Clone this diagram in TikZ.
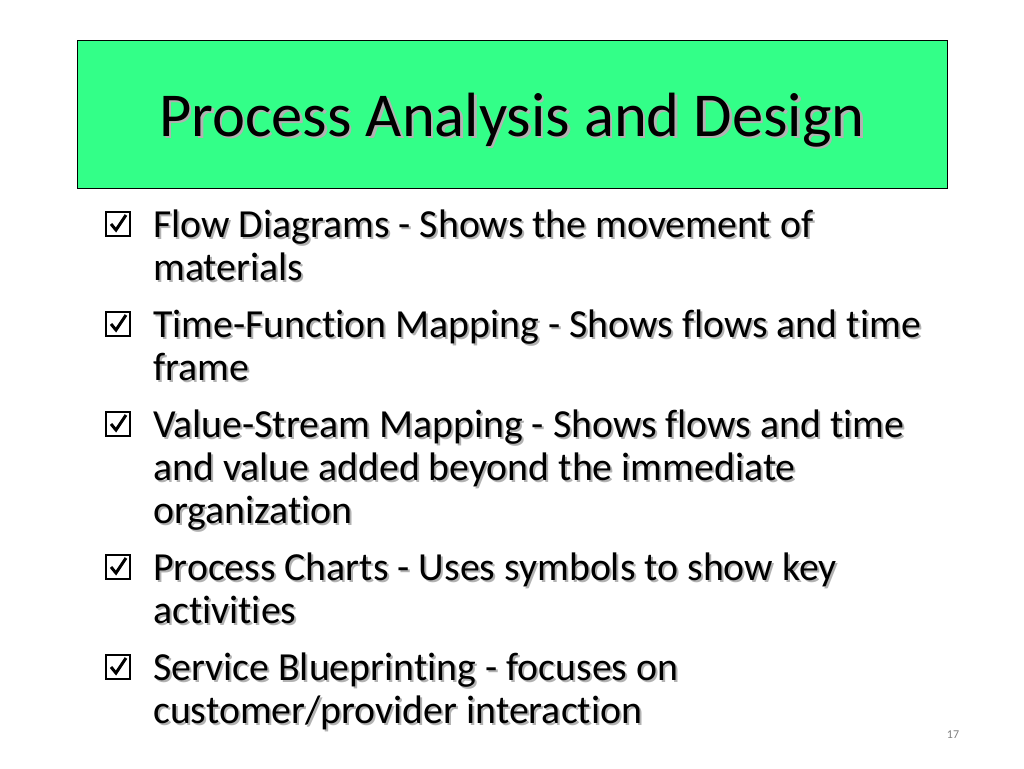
\documentclass[tikz,border=0pt]{standalone}
\usepackage{fontspec}
\setmainfont[Ligatures=NoCommon]{Carlito}
\definecolor{slgreen}{HTML}{33FF88}
\begin{document}
\begin{tikzpicture}[x=1pt,y=-1pt,
  txt/.style={anchor=base west,inner sep=0pt,font=\fontsize{39.8}{46}\selectfont},
  shd/.style={txt,text=black!30},
  cbox/.style={draw=black,line width=2pt,minimum size=24pt,inner sep=0pt}]
\useasboundingbox (0,0) rectangle (1024,768);
\fill[white] (0,0) rectangle (1024,768);
\node[draw=black,fill=slgreen,minimum width=870pt,minimum height=148pt,anchor=north west,inner sep=0pt] (title) at (77,40) {};
\node[anchor=base,inner sep=0pt,text=black!30,font=\fontsize{62.5}{70}\selectfont] at (514.5,138.5) {Process Analysis and Design};
\node[anchor=base,inner sep=0pt,font=\fontsize{62.5}{70}\selectfont] (tt) at (512,136) {Process Analysis and Design};
\foreach \y/\t [count=\i] in {
 237/{Flow Diagrams - Shows the movement of},
 280/{materials},
 337/{Time-Function Mapping - Shows flows and time},
 380/{frame},
 437/{Value-Stream Mapping - Shows flows and time},
 480/{and value added beyond the immediate},
 523/{organization},
 580/{Process Charts - Uses symbols to show key},
 623/{activities},
 680/{Service Blueprinting - focuses on},
 723/{customer/provider interaction}}{
  \node[shd] at (155,\y+2) {\t};
  \node[txt] (l\i) at (153,\y) {\t};
}
\foreach \y [count=\i] in {237,337,437,580,680}{
  \node[cbox] (c\i) at (118,\y-13) {};
  \draw[line width=3pt,line join=miter] ([shift={(-7,0)}]c\i.center) -- ([shift={(-2,6)}]c\i.center) -- ([shift={(8,-9)}]c\i.center);
}
\node[anchor=base,text=black!50,font=\fontsize{12}{14}\selectfont,inner sep=0pt] (pg) at (953,738) {17};
\end{tikzpicture}
\end{document}
